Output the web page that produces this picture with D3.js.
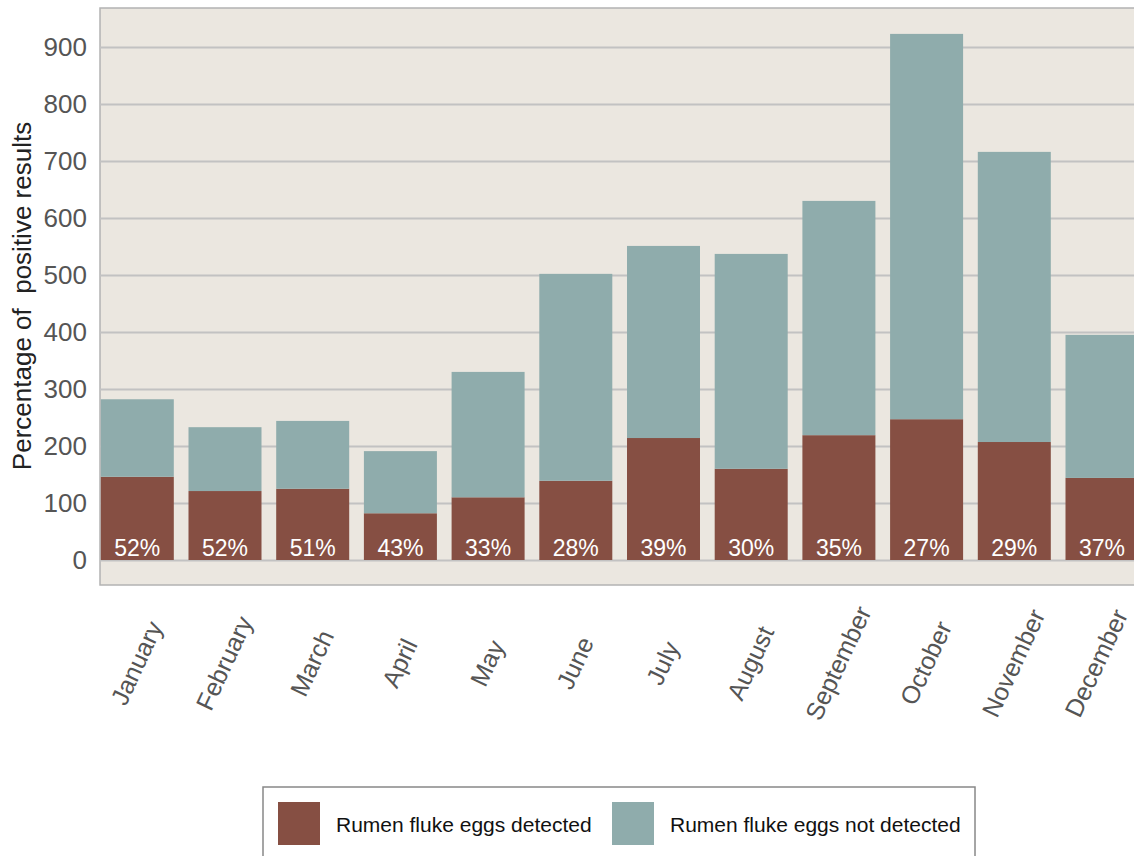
<!DOCTYPE html>
<html>
<head>
<meta charset="utf-8">
<script src="https://cdn.jsdelivr.net/npm/d3@7"></script>
<style>
  body { margin: 0; background: #fff; }
  svg { display: block; font-family: "Liberation Sans", Arial, sans-serif; }
</style>
</head>
<body>
<div id="chart"></div>
<script>
// monthly counts
const months = ["January", "February", "March", "April", "May", "June",
    "July", "August", "September", "October", "November", "December"];
const detected = [146, 121, 125, 82, 110, 139, 214, 160, 219, 247, 207, 144];
const notDetected = [136, 112, 119, 109, 220, 363, 337, 377, 411, 676, 509, 251];
const percentLabels = ["52%", "52%", "51%", "43%", "33%", "28%", "39%", "30%", "35%", "27%", "29%", "37%"];
const yTicks = [0, 100, 200, 300, 400, 500, 600, 700, 800, 900];
const seriesNames = ["Rumen fluke eggs detected", "Rumen fluke eggs not detected"];

const Colors = {detected: "#864f43", notDetected: "#8facac", bg: "#ebe7e0", grid: "#c2c2c2", frame: "#b3b3b3"};

const width = 1134, height = 856;
const plot = {left: 100, top: 8, bottom: 585};

let svg = d3.select("#chart").append("svg")
    .attr("width", width)
    .attr("height", height);

let rows = months.map(function(m, i) {
    return {month: m, detected: detected[i], notDetected: notDetected[i], pct: percentLabels[i]};
});

let stack = d3.stack().keys(["detected", "notDetected"])(rows);

let x = d3.scaleBand()
    .domain(months)
    .range([100.8, 1138.5])
    .paddingInner(0.1676)
    .paddingOuter(0)
    .align(0);

let y = d3.scaleLinear()
    .domain([0, 900])
    .range([560, 47]);

// plot background
svg.append("rect")
    .attr("x", plot.left)
    .attr("y", plot.top)
    .attr("width", width - plot.left + 10)
    .attr("height", plot.bottom - plot.top)
    .attr("fill", Colors.bg)
    .attr("stroke", Colors.frame)
    .attr("stroke-width", 1.5);

// gridlines + y labels
let yAxis = svg.append("g")
    .attr("transform", "translate(" + plot.left + ",0)")
    .call(d3.axisLeft(y).tickValues(yTicks).tickSize(-(width - plot.left)).tickPadding(13));
yAxis.select(".domain").remove();
yAxis.selectAll(".tick line")
    .attr("stroke", Colors.grid)
    .attr("stroke-width", 2);
yAxis.selectAll(".tick text")
    .attr("fill", "#555")
    .attr("font-size", 26)
    .attr("font-family", "Liberation Sans, Arial, sans-serif");

// stacked bars
let layers = svg.append("g").selectAll("g")
    .data(stack)
    .enter()
    .append("g")
    .attr("fill", function(d) { return Colors[d.key]; });

layers.selectAll("rect")
    .data(function(d) { return d; })
    .enter()
    .append("rect")
    .attr("x", function(d) { return x(d.data.month); })
    .attr("y", function(d) { return y(d[1]); })
    .attr("width", x.bandwidth())
    .attr("height", function(d) { return y(d[0]) - y(d[1]); });

// percentage labels inside bars
svg.append("g").selectAll("text")
    .data(rows)
    .enter()
    .append("text")
    .attr("x", function(d) { return x(d.month) + x.bandwidth() / 2; })
    .attr("y", y(0) - 4)
    .attr("text-anchor", "middle")
    .attr("fill", "#fff")
    .attr("font-size", 23)
    .text(function(d) { return d.pct; });

// rotated month labels (last one nudged so it stays inside the page)
svg.append("g").selectAll("text")
    .data(months)
    .enter()
    .append("text")
    .attr("transform", function(d) {
        let cx = Math.min(x(d) + x.bandwidth() / 2 - 1, width - 38);
        return "translate(" + cx + ",663) rotate(-65)";
    })
    .attr("text-anchor", "middle")
    .attr("dominant-baseline", "central")
    .attr("fill", "#555")
    .attr("font-size", 25)
    .text(function(d) { return d; });

// y axis title
svg.append("text")
    .attr("transform", "translate(22,296) rotate(-90)")
    .attr("text-anchor", "middle")
    .attr("dominant-baseline", "central")
    .attr("fill", "#222")
    .attr("font-size", 26)
    .style("white-space", "pre")
    .text("Percentage of  positive results");

// legend
let legend = svg.append("g");
legend.append("rect")
    .attr("x", 263)
    .attr("y", 787)
    .attr("width", 712)
    .attr("height", 90)
    .attr("fill", "#fff")
    .attr("stroke", "#888")
    .attr("stroke-width", 1.5);

let legendItems = legend.selectAll("g")
    .data(seriesNames)
    .enter()
    .append("g")
    .attr("transform", function(d, i) { return "translate(" + (278 + i * 334) + ",802)"; });

legendItems.append("rect")
    .attr("width", 42)
    .attr("height", 43)
    .attr("fill", function(d, i) { return i === 0 ? Colors.detected : Colors.notDetected; });

legendItems.append("text")
    .attr("x", 58)
    .attr("y", 22)
    .attr("dominant-baseline", "central")
    .attr("fill", "#111")
    .attr("font-size", 21)
    .text(function(d) { return d; });
</script>
</body>
</html>
